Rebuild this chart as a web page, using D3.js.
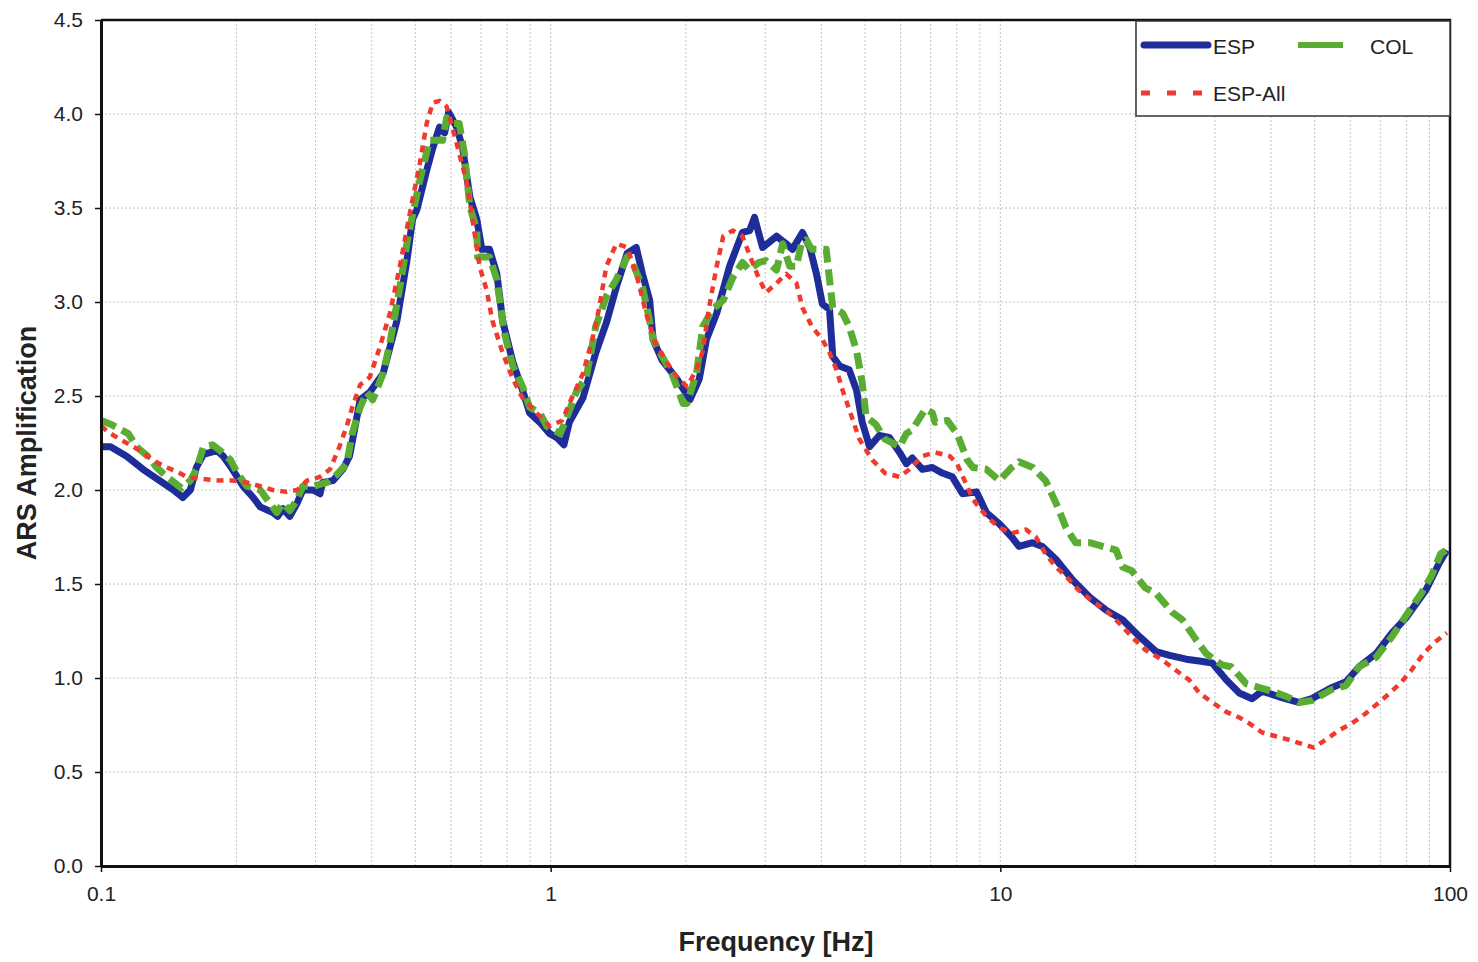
<!DOCTYPE html>
<html>
<head>
<meta charset="utf-8">
<script src="https://cdn.jsdelivr.net/npm/d3@7"></script>
<style>
  body { margin: 0; background: #fff; }
  svg { font-family: "Liberation Sans", Arial, sans-serif; }
  .grid line { stroke: #c2c2cc; stroke-width: 1; stroke-dasharray: 2,2; }
</style>
</head>
<body>
<svg id="canvas"></svg>
<script>
// ESP (blue, solid)
const espFreq = [0.100,0.105,0.114,0.124,0.135,0.145,0.152,0.158,0.163,0.169,0.181,0.187,0.196,0.207,0.218,0.226,0.241,0.247,0.254,0.263,0.273,0.281,0.296,0.307,0.311,0.328,0.345,0.357,0.377,0.396,0.424,0.455,0.479,0.493,0.504,0.530,0.547,0.566,0.581,0.593,0.618,0.637,0.661,0.685,0.703,0.731,0.759,0.782,0.824,0.866,0.898,0.946,0.995,1.03,1.07,1.10,1.18,1.26,1.33,1.40,1.48,1.55,1.60,1.66,1.69,1.77,1.91,2.04,2.14,2.22,2.34,2.50,2.67,2.77,2.84,2.96,3.18,3.34,3.45,3.63,3.77,3.90,4.02,4.17,4.24,4.39,4.61,4.79,4.93,5.12,5.38,5.66,5.97,6.18,6.37,6.71,7.06,7.43,7.82,8.24,8.85,9.31,9.95,10.6,11.0,11.8,12.4,13.3,14.5,15.8,17.2,18.7,20.4,22.2,23.8,25.9,27.7,29.6,31.8,34.0,36.3,38.2,41.7,46.1,49.3,54.7,58.7,62.8,68.5,74.3,79.8,88.5,94.6,98.4];
const espAmp = [2.23,2.23,2.18,2.11,2.05,2.00,1.96,2.00,2.12,2.19,2.21,2.18,2.11,2.02,1.96,1.91,1.88,1.86,1.90,1.86,1.93,2.00,2.00,1.98,2.04,2.05,2.11,2.18,2.48,2.52,2.62,2.90,3.22,3.44,3.49,3.70,3.82,3.93,3.90,4.01,3.93,3.82,3.56,3.44,3.28,3.28,3.15,2.90,2.68,2.53,2.41,2.36,2.30,2.28,2.24,2.36,2.49,2.73,2.89,3.08,3.26,3.29,3.15,3.01,2.80,2.69,2.59,2.48,2.59,2.80,2.94,3.19,3.37,3.38,3.45,3.29,3.35,3.31,3.28,3.37,3.29,3.15,2.99,2.96,2.71,2.66,2.64,2.53,2.36,2.23,2.29,2.28,2.20,2.14,2.17,2.11,2.12,2.09,2.07,1.98,1.99,1.88,1.82,1.75,1.70,1.72,1.70,1.63,1.52,1.43,1.36,1.31,1.22,1.14,1.12,1.10,1.09,1.08,0.99,0.92,0.89,0.93,0.90,0.87,0.89,0.95,0.98,1.06,1.13,1.24,1.32,1.47,1.61,1.68];

// COL (green, long dashes)
const colFreq = [0.100,0.105,0.109,0.115,0.120,0.127,0.133,0.140,0.151,0.158,0.163,0.169,0.177,0.184,0.194,0.201,0.211,0.226,0.234,0.246,0.254,0.263,0.273,0.281,0.296,0.318,0.334,0.352,0.362,0.377,0.390,0.402,0.424,0.439,0.462,0.482,0.512,0.538,0.575,0.587,0.596,0.626,0.643,0.661,0.685,0.688,0.731,0.759,0.788,0.824,0.866,0.898,0.946,0.980,1.05,1.08,1.14,1.20,1.26,1.33,1.40,1.48,1.52,1.60,1.66,1.69,1.77,1.86,1.97,2.01,2.11,2.18,2.29,2.42,2.54,2.67,2.77,2.90,3.01,3.18,3.28,3.40,3.52,3.61,3.70,3.81,4.10,4.17,4.24,4.46,4.61,4.79,4.93,5.03,5.28,5.54,5.97,6.18,6.37,6.81,7.06,7.16,7.62,8.01,8.44,8.69,9.31,9.95,10.6,11.0,11.8,12.6,13.3,14.0,14.7,15.8,16.9,18.1,18.7,19.6,21.0,22.2,24.1,25.4,27.3,28.7,31.1,32.6,35.2,37.5,40.2,43.4,46.1,49.3,54.7,58.7,62.8,68.5,74.3,80.8,86.3,90.8,95.3,99.4];
const colAmp = [2.37,2.35,2.33,2.30,2.23,2.18,2.12,2.07,2.01,2.05,2.11,2.23,2.24,2.21,2.16,2.09,2.02,2.00,1.95,1.88,1.93,1.89,1.95,2.02,2.02,2.04,2.08,2.14,2.30,2.44,2.52,2.48,2.62,2.78,3.08,3.35,3.65,3.86,3.86,3.98,3.95,3.95,3.79,3.51,3.38,3.24,3.24,3.12,2.84,2.66,2.55,2.44,2.41,2.34,2.30,2.37,2.52,2.60,2.87,3.03,3.12,3.24,3.21,3.08,2.90,2.80,2.71,2.62,2.46,2.46,2.62,2.87,2.96,3.01,3.13,3.21,3.17,3.21,3.22,3.17,3.31,3.19,3.19,3.31,3.33,3.28,3.28,3.12,2.97,2.94,2.87,2.74,2.57,2.39,2.35,2.27,2.23,2.30,2.32,2.43,2.41,2.36,2.37,2.30,2.16,2.12,2.11,2.05,2.12,2.15,2.12,2.05,1.93,1.80,1.72,1.72,1.70,1.68,1.59,1.57,1.48,1.45,1.35,1.31,1.20,1.13,1.07,1.06,0.97,0.95,0.93,0.90,0.87,0.88,0.94,0.96,1.06,1.11,1.22,1.35,1.45,1.54,1.66,1.69];

// ESP-All (red, short dashes)
const allFreq = [0.100,0.105,0.114,0.122,0.130,0.140,0.147,0.155,0.166,0.184,0.196,0.211,0.226,0.241,0.259,0.273,0.287,0.307,0.323,0.339,0.352,0.362,0.377,0.396,0.417,0.439,0.462,0.486,0.512,0.530,0.547,0.566,0.587,0.606,0.626,0.649,0.670,0.695,0.721,0.742,0.782,0.824,0.866,0.930,0.995,1.06,1.11,1.18,1.24,1.28,1.33,1.40,1.48,1.55,1.63,1.71,1.81,1.91,2.01,2.11,2.18,2.25,2.34,2.42,2.54,2.67,2.80,2.90,3.01,3.18,3.34,3.52,3.63,3.81,4.02,4.17,4.32,4.46,4.61,4.86,5.19,5.54,5.97,6.28,6.71,7.16,7.72,8.01,8.44,8.69,9.31,9.95,10.6,11.4,12.0,12.6,13.3,14.0,14.9,16.0,17.2,18.4,19.6,21.0,22.8,24.6,26.3,27.7,29.6,31.8,34.0,35.7,38.2,41.0,44.0,46.8,49.8,52.8,56.5,60.6,64.8,69.5,74.3,78.1,82.0,87.3,92.4,98.4];
const allAmp = [2.34,2.30,2.25,2.21,2.16,2.12,2.10,2.07,2.06,2.05,2.05,2.04,2.02,2.00,1.99,2.00,2.05,2.07,2.11,2.23,2.34,2.44,2.56,2.60,2.76,2.94,3.19,3.47,3.74,3.95,4.06,4.07,4.04,3.92,3.79,3.65,3.44,3.19,3.06,2.90,2.73,2.59,2.49,2.41,2.34,2.37,2.48,2.62,2.81,2.96,3.19,3.31,3.29,3.15,2.94,2.78,2.68,2.60,2.55,2.64,2.74,2.97,3.19,3.35,3.38,3.35,3.22,3.13,3.05,3.10,3.15,3.10,2.97,2.87,2.80,2.73,2.64,2.53,2.43,2.27,2.16,2.09,2.07,2.11,2.18,2.20,2.18,2.14,2.02,1.95,1.86,1.80,1.77,1.79,1.75,1.66,1.59,1.54,1.47,1.41,1.36,1.29,1.22,1.15,1.10,1.04,0.99,0.92,0.87,0.82,0.79,0.76,0.71,0.69,0.67,0.65,0.63,0.67,0.72,0.76,0.81,0.87,0.93,0.98,1.04,1.13,1.19,1.24];

const xTicks = [0.1, 1, 10, 100];
const xGrid = [0.2,0.3,0.4,0.5,0.6,0.7,0.8,0.9,1,2,3,4,5,6,7,8,9,10,20,30,40,50,60,70,80,90];
const yTicks = [0, 0.5, 1, 1.5, 2, 2.5, 3, 3.5, 4, 4.5];

const width = 1478;
const height = 962;
const plotLeft = 101, plotRight = 1450, plotTop = 20, plotBottom = 866;

const canvas = d3.select('#canvas')
    .attr('width', width)
    .attr('height', height);

const xScale = d3.scaleLog()
    .domain([0.1, 100])
    .range([plotLeft, plotRight]);

const yScale = d3.scaleLinear()
    .domain([0, 4.5])
    .range([plotBottom, plotTop]);

// gridlines
const grid = canvas.append('g').attr('class', 'grid');
grid.selectAll('.vg')
    .data(xGrid)
    .enter()
    .append('line')
    .attr('x1', d => xScale(d))
    .attr('x2', d => xScale(d))
    .attr('y1', plotTop)
    .attr('y2', plotBottom);
grid.selectAll('.hg')
    .data(yTicks.filter(v => v > 0 && v < 4.5))
    .enter()
    .append('line')
    .attr('x1', plotLeft)
    .attr('x2', plotRight)
    .attr('y1', d => yScale(d))
    .attr('y2', d => yScale(d));

// frame (top + right)
canvas.append('path')
    .attr('d', `M${plotLeft},${plotTop}H${plotRight}V${plotBottom}`)
    .attr('fill', 'none')
    .attr('stroke', '#111')
    .attr('stroke-width', 2.5);

// series
const line = d3.line()
    .x(d => xScale(d[0]))
    .y(d => yScale(d[1]));

const series = [
    { name: 'ESP', f: espFreq, a: espAmp, color: '#1f2d9a', w: 7, dash: null },
    { name: 'COL', f: colFreq, a: colAmp, color: '#5aad32', w: 7, dash: '16,7' },
    { name: 'ESP-All', f: allFreq, a: allAmp, color: '#f03a2e', w: 4.5, dash: '7,6' }
];

series.forEach(s => {
    canvas.append('path')
        .datum(d3.zip(s.f, s.a))
        .attr('d', line)
        .attr('fill', 'none')
        .attr('stroke', s.color)
        .attr('stroke-width', s.w)
        .attr('stroke-linejoin', 'round')
        .attr('stroke-dasharray', s.dash);
});

// axes
const xAxis = d3.axisBottom(xScale)
    .tickValues(xTicks)
    .tickFormat(d => String(d))
    .tickSizeInner(6)
    .tickSizeOuter(0)
    .tickPadding(14);
const gx = canvas.append('g')
    .attr('transform', 'translate(0,' + plotBottom + ')')
    .call(xAxis);

const yAxis = d3.axisLeft(yScale)
    .tickValues(yTicks)
    .tickFormat(d3.format('.1f'))
    .tickSizeInner(6)
    .tickSizeOuter(0)
    .tickPadding(12);
const gy = canvas.append('g')
    .attr('transform', 'translate(' + plotLeft + ',0)')
    .call(yAxis);

[gx, gy].forEach(g => {
    g.select('.domain').attr('stroke', '#111').attr('stroke-width', 3);
    g.selectAll('.tick line').attr('stroke', '#111').attr('stroke-width', 1.5);
    g.selectAll('.tick text')
        .attr('fill', '#222')
        .style('font-size', '21px')
        .style('font-family', '"Liberation Sans", Arial, sans-serif');
});

// axis titles
canvas.append('text')
    .attr('x', 776)
    .attr('y', 951)
    .attr('text-anchor', 'middle')
    .style('font-size', '27px')
    .style('font-weight', 'bold')
    .attr('fill', '#222')
    .text('Frequency [Hz]');

canvas.append('text')
    .attr('transform', 'translate(36,443) rotate(-90)')
    .attr('text-anchor', 'middle')
    .style('font-size', '27px')
    .style('font-weight', 'bold')
    .attr('fill', '#222')
    .text('ARS Amplification');

// legend
const legend = canvas.append('g');
legend.append('rect')
    .attr('x', 1136)
    .attr('y', 21)
    .attr('width', 314)
    .attr('height', 95)
    .attr('fill', '#fff')
    .attr('stroke', '#333')
    .attr('stroke-width', 1.5);

legend.append('line')
    .attr('x1', 1144).attr('x2', 1208).attr('y1', 45).attr('y2', 45)
    .attr('stroke', series[0].color).attr('stroke-width', 7).attr('stroke-linecap', 'round');
legend.append('line')
    .attr('x1', 1298).attr('x2', 1343).attr('y1', 45).attr('y2', 45)
    .attr('stroke', series[1].color).attr('stroke-width', 6);
legend.append('line')
    .attr('x1', 1141).attr('x2', 1205).attr('y1', 93).attr('y2', 93)
    .attr('stroke', series[2].color).attr('stroke-width', 5).attr('stroke-dasharray', '9,17');

const legText = [['ESP', 1213, 54], ['COL', 1370, 54], ['ESP-All', 1213, 101]];
legend.selectAll('text')
    .data(legText)
    .enter()
    .append('text')
    .attr('x', d => d[1])
    .attr('y', d => d[2])
    .style('font-size', '21px')
    .attr('fill', '#222')
    .text(d => d[0]);
</script>
</body>
</html>
